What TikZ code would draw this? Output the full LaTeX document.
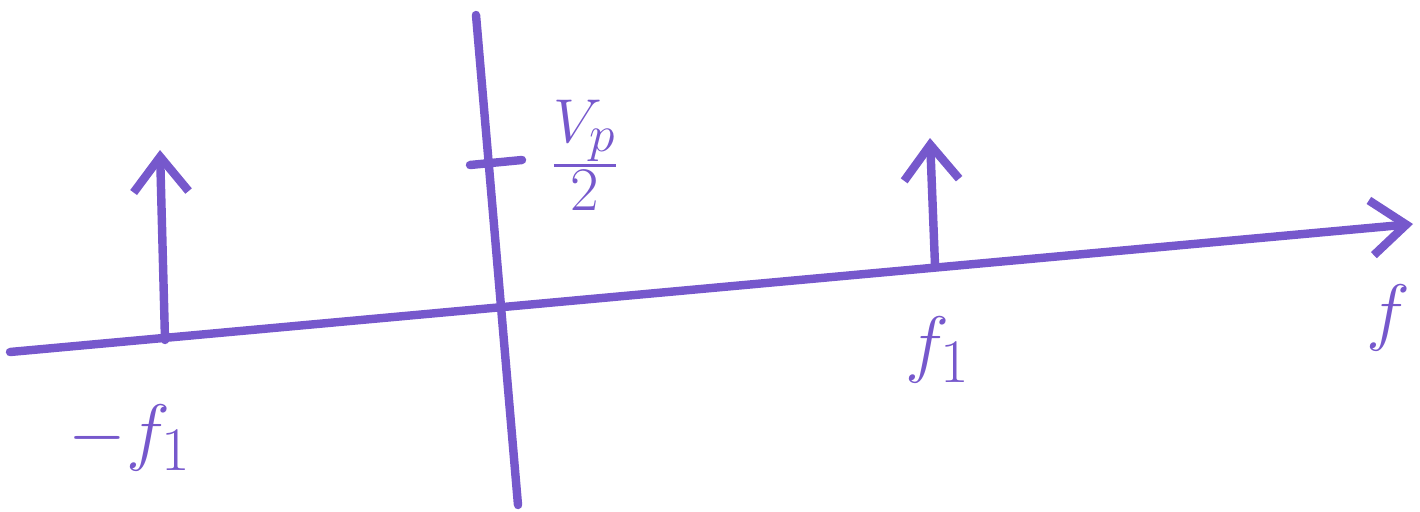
\documentclass[tikz,border=0pt]{standalone}
\usepackage{amsmath,amssymb}
\usepackage{tikz}
\usetikzlibrary{arrows.meta,positioning,calc}
\definecolor{penPurple}{RGB}{118,88,204}

\begin{document}
\begin{tikzpicture}[
      x=0.02cm, y=-0.02cm,
      pen/.style={draw=penPurple, line width=4.8pt, line cap=round},
      arrow/.style={pen, -{Straight Barb[length=7mm, width=11mm, line width=4.8pt]}},
      lbl/.style={text=penPurple, font=\Huge, scale=1.7, transform shape, inner sep=0pt}
    ]
      \useasboundingbox (0,0) rectangle (1420,511);
      % axes
      \coordinate (fstart) at (10,352);
      \coordinate (fend) at (1413,224);
      \coordinate (vtop) at (476,15);
      \coordinate (vbot) at (518,505);
      \draw[arrow] (fstart) -- (fend);
      \draw[pen] (vtop) -- (vbot);
      % tick on vertical axis
      \coordinate (tickl) at (470,165);
      \coordinate (tickr) at (522,160);
      \draw[pen] (tickl) -- (tickr);
      \node[lbl] (vp) at (585,155) {$\frac{V_p}{2}$};
      % impulses
      \coordinate (mbase) at (165,340);
      \coordinate (mtip) at (160,150);
      \coordinate (pbase) at (935,265);
      \coordinate (ptip) at (930,138);
      \draw[arrow] (mbase) -- (mtip);
      \draw[arrow] (pbase) -- (ptip);
      % labels
      \node[lbl] (mf) at (130,438) {$-f_1$};
      \node[lbl] (pf) at (938,350) {$f_1$};
      \node[lbl] (ff) at (1388,318) {$f$};
    \end{tikzpicture}
\end{document}
